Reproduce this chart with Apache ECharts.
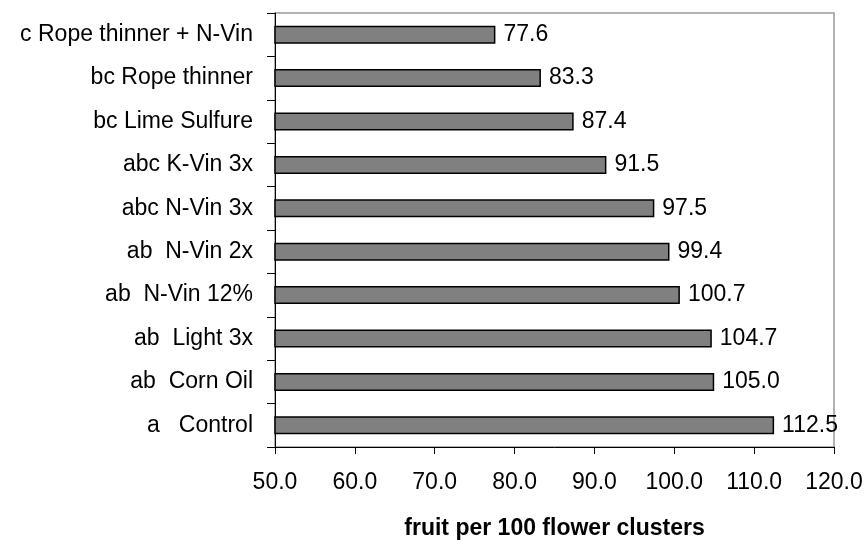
<!DOCTYPE html>
<html><head><meta charset="utf-8">
<script src="https://cdn.jsdelivr.net/npm/echarts@6/dist/echarts.min.js"></script>
<style>html,body{margin:0;padding:0;background:#fff}#c{width:866px;height:545px}</style>
</head><body><div id="c"></div>
<script>
var categories = ["c Rope thinner + N-Vin", "bc Rope thinner", "bc Lime Sulfure", "abc K-Vin 3x", "abc N-Vin 3x", "ab  N-Vin 2x", "ab  N-Vin 12%", "ab  Light 3x", "ab  Corn Oil", "a   Control"];
var values = [77.6, 83.3, 87.4, 91.5, 97.5, 99.4, 100.7, 104.7, 105.0, 112.5];
var xTicks = [50, 60, 70, 80, 90, 100, 110, 120];
var xTitle = "fruit per 100 flower clusters";

var chart = echarts.init(document.getElementById('c'));
var F = 'Liberation Sans, Arial, sans-serif';
chart.setOption({
  animation: false,
  grid: {left: 275, right: 32, top: 13, bottom: 93, show: true, borderColor: '#999', borderWidth: 1.5},
  xAxis: {
    type: 'value', min: xTicks[0], max: xTicks[xTicks.length-1], interval: 10,
    axisLine: {show: true, lineStyle: {color: '#000', width: 1}},
    axisTick: {show: true, length: 7, lineStyle: {color: '#000'}},
    splitLine: {show: false},
    axisLabel: {color: '#000', fontFamily: F, fontSize: 23, margin: 24, formatter: function(v){return v.toFixed(1);}},
    name: xTitle, nameLocation: 'middle', nameGap: 70,
    nameTextStyle: {color: '#000', fontFamily: F, fontSize: 23, fontWeight: 'bold'}
  },
  yAxis: {
    type: 'category', data: categories, inverse: true,
    axisLine: {show: true, lineStyle: {color: '#000', width: 1}},
    axisTick: {show: true, length: 8, lineStyle: {color: '#000'}},
    axisLabel: {color: '#000', fontFamily: F, fontSize: 23, margin: 22}
  },
  series: [{
    type: 'bar', data: values, barWidth: 18,
    itemStyle: {color: '#808080', borderColor: '#000', borderWidth: 1.5},
    label: {show: true, position: 'right', distance: 8, color: '#000', fontFamily: F, fontSize: 23,
      formatter: function(p){return p.value.toFixed(1);}}
  }]
});
</script></body></html>
